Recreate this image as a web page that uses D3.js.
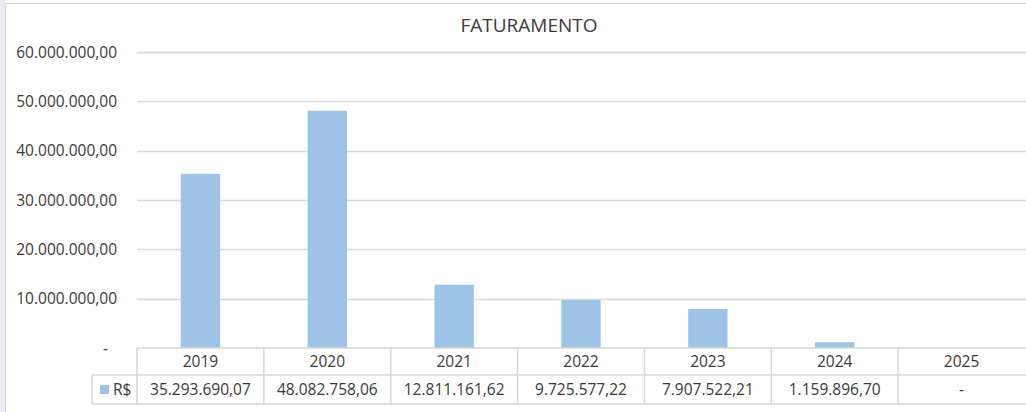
<!DOCTYPE html>
<html>
<head>
<meta charset="utf-8">
<script src="https://cdn.jsdelivr.net/npm/d3@7"></script>
<style>
  body { margin: 0; background: #fff; }
  text { font-family: "Open Sans", "Liberation Sans", sans-serif; fill: #3a3a3a; }
</style>
</head>
<body>
<div id="chart"></div>
<script>
// data
const years = ["2019", "2020", "2021", "2022", "2023", "2024", "2025"];
const values = [35293690.07, 48082758.06, 12811161.62, 9725577.22, 7907522.21, 1159896.70, 0];
const yTicks = [0, 10000000, 20000000, 30000000, 40000000, 50000000, 60000000];
const seriesName = "R$";
const title = "FATURAMENTO";

const W = 1026, H = 412;
const margin = { top: 52, right: 0, bottom: 64, left: 137 };
const plotBottom = 348;

const svg = d3.select("#chart").append("svg")
    .attr("width", W)
    .attr("height", H);

// chart frame (left strip + border)
svg.append("rect").attr("x", 0).attr("y", 0).attr("width", 5).attr("height", H).attr("fill", "#ebebf2");
svg.append("line").attr("x1", 5.5).attr("x2", 5.5).attr("y1", 3).attr("y2", H).attr("stroke", "#d4d4d4");
svg.append("line").attr("x1", 5).attr("x2", W).attr("y1", 3.5).attr("y2", 3.5).attr("stroke", "#d4d4d4");

const fmt = v => v === 0 ? "-" : v.toLocaleString("pt-BR", { minimumFractionDigits: 2, maximumFractionDigits: 2 });

// scales
const x = d3.scaleBand()
    .domain(years)
    .range([margin.left, W - 1])
    .padding(0);

const y = d3.scaleLinear()
    .domain([0, 60000000])
    .range([plotBottom, margin.top]);

// gridlines
svg.append("g")
    .selectAll("line")
    .data(yTicks.filter(d => d > 0))
    .enter().append("line")
    .attr("x1", margin.left)
    .attr("x2", W)
    .attr("y1", d => Math.round(y(d)) + 0.5)
    .attr("y2", d => Math.round(y(d)) + 0.5)
    .attr("stroke", "#d9d9d9")
    .attr("stroke-width", 1.5);

// y labels
svg.append("g")
    .selectAll("text")
    .data(yTicks)
    .enter().append("text")
    .attr("x", d => d === 0 ? 108 : 117)
    .attr("y", d => y(d))
    .attr("dy", "0.36em")
    .attr("text-anchor", "end")
    .style("font-size", "15.5px")
    .text(fmt);

// bars
const barW = x.bandwidth() * 0.31;
svg.append("g")
    .selectAll("rect")
    .data(years.map((yr, i) => ({ year: yr, value: values[i] })))
    .enter().append("rect")
    .attr("x", d => x(d.year) + (x.bandwidth() - barW) / 2)
    .attr("y", d => y(d.value))
    .attr("width", barW)
    .attr("height", d => plotBottom - y(d.value))
    .attr("fill", "#9dc3e6");

// data table
const rowTop = plotBottom, rowMid = 375, rowBot = 404;
const legendLeft = 92;
const tbl = svg.append("g").attr("stroke", "#d6d6d6").attr("stroke-width", 1.5);
tbl.append("line").attr("x1", margin.left).attr("x2", W).attr("y1", rowTop).attr("y2", rowTop);
tbl.append("line").attr("x1", legendLeft).attr("x2", W).attr("y1", rowMid).attr("y2", rowMid);
tbl.append("line").attr("x1", legendLeft).attr("x2", W).attr("y1", rowBot).attr("y2", rowBot);
tbl.append("line").attr("x1", legendLeft).attr("x2", legendLeft).attr("y1", rowMid).attr("y2", rowBot);
tbl.selectAll(".col")
    .data(years)
    .enter().append("line")
    .attr("class", "col")
    .attr("x1", d => x(d))
    .attr("x2", d => x(d))
    .attr("y1", rowTop)
    .attr("y2", rowBot);

svg.append("g")
    .selectAll("text")
    .data(years)
    .enter().append("text")
    .attr("x", d => x(d) + x.bandwidth() / 2)
    .attr("y", (rowTop + rowMid) / 2)
    .attr("dy", "0.36em")
    .attr("text-anchor", "middle")
    .style("font-size", "15.5px")
    .text(d => d);

svg.append("g")
    .selectAll("text")
    .data(years.map((yr, i) => ({ year: yr, value: values[i] })))
    .enter().append("text")
    .attr("x", d => x(d.year) + x.bandwidth() / 2)
    .attr("y", (rowMid + rowBot) / 2)
    .attr("dy", "0.36em")
    .attr("text-anchor", "middle")
    .style("font-size", "15.5px")
    .text(d => fmt(d.value));

// legend key
svg.append("rect")
    .attr("x", 100).attr("y", 385)
    .attr("width", 9).attr("height", 9)
    .attr("fill", "#9dc3e6");
svg.append("text")
    .attr("x", 113)
    .attr("y", (rowMid + rowBot) / 2)
    .attr("dy", "0.36em")
    .style("font-size", "15.5px")
    .text(seriesName);

// title
svg.append("text")
    .attr("x", 529)
    .attr("y", 25)
    .attr("dy", "0.36em")
    .attr("text-anchor", "middle")
    .style("font-size", "19px")
    .text(title);
</script>
</body>
</html>
